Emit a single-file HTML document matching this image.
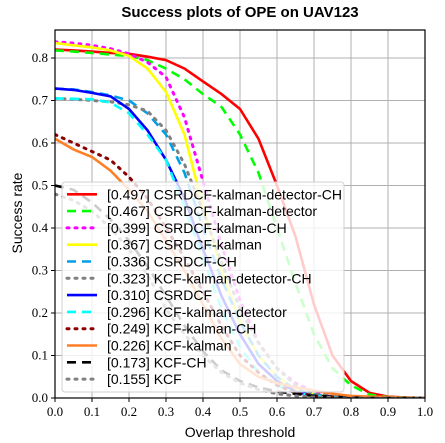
<!DOCTYPE html>
<html><head><meta charset="utf-8"><style>
body{margin:0;background:#fff}
svg{display:block}
.tick{font-family:"Liberation Serif",serif;font-size:13px}
.lab{font-family:"Liberation Sans",sans-serif;font-size:14px}
.leg{font-family:"Liberation Sans",sans-serif;font-size:14px}
</style></head><body>
<svg id="chart" width="445" height="443"></svg>
<script>
const xs=[0,0.05,0.1,0.15,0.2,0.25,0.3,0.35,0.4,0.45,0.5,0.55,0.6,0.65,0.7,0.75,0.8,0.85,0.9,0.95,1.0];
const names=["[0.497] CSRDCF-kalman-detector-CH","[0.467] CSRDCF-kalman-detector","[0.399] CSRDCF-kalman-CH","[0.367] CSRDCF-kalman","[0.336] CSRDCF-CH","[0.323] KCF-kalman-detector-CH","[0.310] CSRDCF","[0.296] KCF-kalman-detector","[0.249] KCF-kalman-CH","[0.226] KCF-kalman","[0.173] KCF-CH","[0.155] KCF"];
const s0=[0.82,0.818,0.815,0.812,0.81,0.803,0.795,0.775,0.745,0.715,0.68,0.61,0.50,0.38,0.22,0.10,0.04,0.012,0.003,0.001,0];
const s1=[0.818,0.815,0.812,0.808,0.805,0.795,0.775,0.75,0.715,0.685,0.62,0.53,0.40,0.27,0.15,0.07,0.03,0.008,0.002,0.001,0];
const s2=[0.838,0.835,0.83,0.822,0.81,0.79,0.755,0.66,0.51,0.36,0.23,0.13,0.07,0.035,0.015,0.006,0.002,0,0,0,0];
const s3=[0.835,0.83,0.825,0.818,0.805,0.775,0.72,0.62,0.45,0.30,0.18,0.10,0.05,0.02,0.008,0.003,0,0,0,0,0];
const s4=[0.728,0.726,0.72,0.712,0.70,0.67,0.62,0.53,0.40,0.28,0.18,0.10,0.05,0.02,0.008,0.003,0.001,0,0,0,0];
const s5=[0.705,0.703,0.70,0.697,0.69,0.675,0.63,0.55,0.44,0.32,0.21,0.13,0.07,0.03,0.01,0.004,0.001,0,0,0,0];
const s6=[0.728,0.725,0.718,0.71,0.68,0.63,0.56,0.47,0.35,0.24,0.15,0.08,0.04,0.015,0.005,0.002,0,0,0,0,0];
const s7=[0.705,0.704,0.703,0.695,0.67,0.62,0.56,0.45,0.33,0.21,0.12,0.06,0.03,0.012,0.005,0.002,0,0,0,0,0];
const s8=[0.62,0.60,0.58,0.56,0.52,0.47,0.40,0.33,0.25,0.17,0.10,0.06,0.03,0.012,0.005,0.002,0,0,0,0,0];
const s9=[0.61,0.585,0.567,0.535,0.49,0.44,0.37,0.30,0.22,0.14,0.08,0.05,0.035,0.025,0.018,0.01,0.005,0.003,0.002,0.001,0];
const s10=[0.50,0.49,0.46,0.42,0.37,0.31,0.24,0.17,0.11,0.065,0.04,0.025,0.015,0.01,0.005,0.003,0.001,0,0,0,0];
const s11=[0.48,0.465,0.44,0.40,0.35,0.29,0.21,0.15,0.10,0.06,0.035,0.02,0.01,0.005,0.002,0.001,0,0,0,0,0];
const series=[s0,s1,s2,s3,s4,s5,s6,s7,s8,s9,s10,s11];
const colors=["#ff0000","#00ff00","#ff00ff","#ffff00","#00a0e8","#808080","#0000ff","#00ffff","#8b0000","#ff7f27","#000000","#808080"];
const dashes=["","9,6","2,6","","9,6","2,6","","9,6","2,6","","9,6","2,6"];
const xticks=[0,0.1,0.2,0.3,0.4,0.5,0.6,0.7,0.8,0.9,1.0];
const yticks=[0,0.1,0.2,0.3,0.4,0.5,0.6,0.7,0.8];
const L=55,R=425,B=398,T=30;
const sx=v=>L+v*(R-L);
const sy=v=>B-v*425;
const NS="http://www.w3.org/2000/svg";
const svg=document.getElementById('chart');
function mk(tag,attrs,parent){const e=document.createElementNS(NS,tag);for(const k in attrs)e.setAttribute(k,attrs[k]);(parent||svg).appendChild(e);return e;}
xticks.forEach(t=>{const l=mk('line',{x1:sx(t),x2:sx(t),y1:T,y2:B,stroke:'#b0b0b0','stroke-width':1});

});
yticks.forEach(t=>{const l=mk('line',{x1:L,x2:R,y1:sy(t),y2:sy(t),stroke:'#b0b0b0','stroke-width':1});

});
const clip=mk('clipPath',{id:'pc'});mk('rect',{x:L,y:T,width:R-L,height:B-T},clip);
series.forEach((s,i)=>{const d=s.map((v,j)=>(j?'L':'M')+sx(xs[j]).toFixed(1)+','+sy(v).toFixed(1)).join('');
const p=mk('path',{d:d,fill:'none',stroke:colors[i],'stroke-width':i==2||i==5||i==8||i==11?3:2.6,'stroke-dasharray':dashes[i],'stroke-linecap':dashes[i]=='2,6'?'round':'butt','clip-path':'url(#pc)'});

});
const fr=mk('rect',{x:L,y:T,width:R-L,height:B-T,fill:'none',stroke:'#000','stroke-width':1.2});


xticks.forEach(t=>{mk('line',{x1:sx(t),x2:sx(t),y1:B,y2:B+4,stroke:'#000'});
const tx=mk('text',{x:sx(t),y:B+18,'text-anchor':'middle',class:'tick'});tx.textContent=t.toFixed(1);

});
yticks.forEach(t=>{mk('line',{x1:L-4,x2:L,y1:sy(t),y2:sy(t),stroke:'#000'});
const tx=mk('text',{x:L-7,y:sy(t)+4,'text-anchor':'end',class:'tick'});tx.textContent=t.toFixed(1);

});
const lg=mk('g',{});


mk('rect',{x:62,y:182,width:282,height:210,rx:3,fill:'rgba(255,255,255,0.8)',stroke:'#d0d0d0'},lg);
names.forEach((n,i)=>{const y=194.3+i*16.8;
const ln=mk('line',{x1:67,x2:97,y1:y,y2:y,stroke:colors[i],'stroke-width':i==2||i==5||i==8||i==11?3:2.6,'stroke-dasharray':dashes[i],'stroke-linecap':dashes[i]=='2,6'?'round':'butt'},lg);


const t=mk('text',{x:107,y:y+5,class:'leg'},lg);t.textContent=n;

});
</script>
<div style="position:absolute;left:0;top:0;width:445px;height:443px;pointer-events:none">
<div style="position:absolute;left:55px;width:370px;top:4px;text-align:center;font:bold 15px 'Liberation Sans',sans-serif">Success plots of OPE on UAV123</div>
<div style="position:absolute;left:55px;width:370px;top:424px;text-align:center;font:14px 'Liberation Sans',sans-serif">Overlap threshold</div>
<div style="position:absolute;left:-33px;top:205px;width:100px;text-align:center;transform:rotate(-90deg);font:14px 'Liberation Sans',sans-serif">Success rate</div>
</div>
</body></html>
